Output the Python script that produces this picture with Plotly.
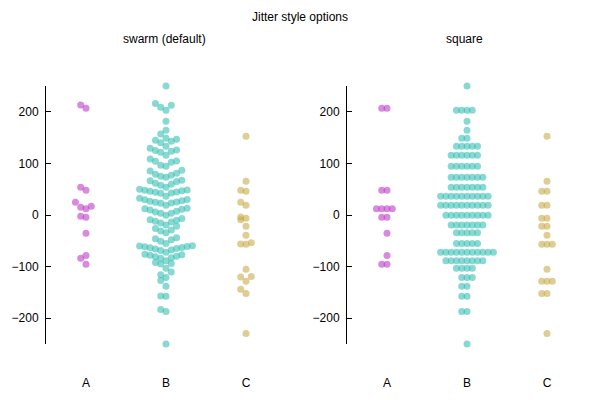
import plotly.graph_objects as go

# ---- data ----
categories = ["A", "B", "C"]

values_A = [213.4, 207, 53.7, 47.9, 24.6, 14.9, 12.3, 16.9, -2.5, -4.5,
            -35.6, -78.3, -84, -95.6]

values_B = [249.8,
            203, 209, 212.8, 216,
            181.7,
            164.3,
            148.8, 157,
            133.3, 140, 143, 145, 147,
            115.8, 121.6, 123.6, 125, 126, 129.4,
            94.5, 96.4, 102.2, 104, 104.5, 108.4,
            73.1, 75, 77, 79, 81, 85.5, 86.7,
            53.7, 57.6, 59.6, 61.5, 65, 66.5, 67.5,
            36.3, 42, 42.5, 44, 44.5, 46, 47, 48, 48.5, 49.9,
            18.8, 22.7, 23.3, 24.6, 25.2, 26.5, 27.8, 29.7, 30, 32.5,
            -0.6, 3.3, 3.5, 5.8, 7.2, 9.7, 11, 12.2, 13,
            -19.5, -15.5, -13.6, -12.3, -10, -9, -7,
            -34.5, -31, -29, -26, -22,
            -55, -51, -48, -46, -44,
            -72.4, -69, -68, -66, -65, -63.5, -63, -61.5, -61, -60, -59.5,
            -88.5, -84, -83, -81, -80, -78, -77, -76,
            -103.4, -95, -94, -92,
            -120.9, -116, -110.6,
            -138.3, -126.7,
            -157.7, -157,
            -186.8, -183,
            -249.8]

values_C = [152.7, 65.4, 47.9, 46, 24.6, 18.8, -4, -6.4, -9, -22, -39.4,
            -54, -56, -56.8, -105.3, -119, -120, -128.6, -144, -151.9, -229.5]

y_ticks = [-200, -100, 0, 100, 200]
panel_titles = ["swarm (default)", "square"]
main_title = "Jitter style options"

# ---- jitter settings (gnuplot-like) ----
OVERLAP = 14.0     # y distance treated as overlapping
SPREAD = 0.066     # x displacement step (category units)

colors = ["rgba(190,60,200,0.6)", "rgba(40,185,175,0.55)", "rgba(195,165,60,0.55)"]


def jitter(vals, square):
    v = sorted(vals)
    xs, ys = [], []
    i = 0
    while i < len(v):
        xs.append(0.0)
        ys.append(v[i])
        j = 1
        while i + j < len(v) and abs(v[i + j] - v[i]) <= OVERLAP:
            off = ((j + 1) // 2) * SPREAD
            if j % 2 == 1:
                off = -off
            xs.append(off)
            ys.append(v[i] if square else v[i + j])
            j += 1
        i += j
    return xs, ys


fig = go.Figure()
all_values = [values_A, values_B, values_C]

for p, square in enumerate([False, True]):
    xa = "x" if p == 0 else "x2"
    ya = "y" if p == 0 else "y2"
    for k, vals in enumerate(all_values):
        offs, ys = jitter(vals, square)
        xs = [k + 1 + o for o in offs]
        fig.add_trace(go.Scatter(
            x=xs, y=ys, mode="markers", xaxis=xa, yaxis=ya,
            marker=dict(size=7, color=colors[k], line=dict(width=0)),
            cliponaxis=False, showlegend=False, hoverinfo="skip"))

W, H = 600, 400
left_dom = [46 / W, 286 / W]
right_dom = [347 / W, 587 / W]
y_dom = [1 - 344 / H, 1 - 86 / H]

font = dict(family="Liberation Sans, Arial, sans-serif", size=12, color="black")

xcommon = dict(range=[0.5, 3.5], tickvals=[1, 2, 3], ticktext=categories,
               showline=False, showgrid=False, zeroline=False, ticks="",
               ticklabelstandoff=30, tickfont=font, fixedrange=True)
ycommon = dict(range=[-250, 250], tickvals=y_ticks, showline=True,
               linecolor="black", linewidth=1, ticks="inside", ticklen=5,
               tickcolor="black", showgrid=False, zeroline=False,
               ticklabelstandoff=4, tickfont=font, fixedrange=True)

fig.update_layout(
    width=W, height=H,
    paper_bgcolor="white", plot_bgcolor="white",
    margin=dict(l=0, r=0, t=0, b=0, autoexpand=False),
    xaxis=dict(domain=left_dom, anchor="y", **xcommon),
    yaxis=dict(domain=y_dom, anchor="x", **ycommon),
    xaxis2=dict(domain=right_dom, anchor="y2", **xcommon),
    yaxis2=dict(domain=y_dom, anchor="x2", **ycommon),
    annotations=[
        dict(text=main_title, x=300 / W, y=1 - 17 / H, xref="paper", yref="paper",
             showarrow=False, font=font, xanchor="center", yanchor="middle"),
        dict(text=panel_titles[0], x=164 / W, y=1 - 39 / H, xref="paper", yref="paper",
             showarrow=False, font=font, xanchor="center", yanchor="middle"),
        dict(text=panel_titles[1], x=464 / W, y=1 - 39 / H, xref="paper", yref="paper",
             showarrow=False, font=font, xanchor="center", yanchor="middle"),
    ],
)

fig.write_html("out.html", config={"displayModeBar": False},
               post_script="document.body.style.margin='0px';")
